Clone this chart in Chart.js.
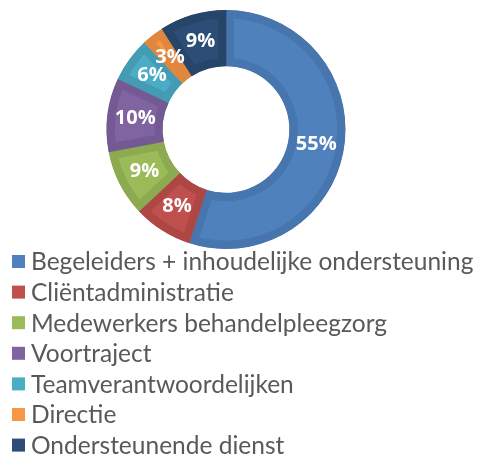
<!DOCTYPE html>
<html>
<head>
<meta charset="utf-8">
<script src="https://cdn.jsdelivr.net/npm/chart.js@4/dist/chart.umd.min.js"></script>
<style>
  html, body { margin: 0; padding: 0; background: #fff; }
  #wrap { width: 477px; height: 454px; position: relative; }
</style>
</head>
<body>
<div id="wrap"><canvas id="grafiek"></canvas></div>
<script>
// data
var categorieen = ['Begeleiders + inhoudelijke ondersteuning', 'Cliëntadministratie', 'Medewerkers behandelpleegzorg',
	'Voortraject', 'Teamverantwoordelijken', 'Directie', 'Ondersteunende dienst'];
var percentages = [55, 8, 9, 10, 6, 3, 9];
var kleuren = ['#4f81bd', '#c0504d', '#9bbb59', '#8064a2', '#4bacc6', '#f79646', '#2c4d75'];
var randKleuren = ['#4775ad', '#ae4744', '#8caa4f', '#735a93', '#439cb4', '#e0873f', '#274469'];

// labels in het midden van elk segment
var labelPlugin = {
	id: 'labels',
	afterDatasetsDraw: function(chart) {
		var ctx = chart.ctx;
		var meta = chart.getDatasetMeta(0);
		ctx.save();
		ctx.font = 'bold 20px "Open Sans"';
		ctx.fillStyle = '#ffffff';
		ctx.textAlign = 'center';
		ctx.textBaseline = 'middle';
		meta.data.forEach(function(arc, i) {
			var p = arc.tooltipPosition();
			ctx.fillText(percentages[i] + '%', p.x, p.y);
		});
		ctx.restore();
	}
};

// legenda onder elkaar
var legendaPlugin = {
	id: 'legenda',
	afterDraw: function(chart) {
		var ctx = chart.ctx;
		ctx.save();
		ctx.font = '24.5px Lato';
		ctx.textBaseline = 'middle';
		categorieen.forEach(function(naam, i) {
			var y = 261.5 + i * 30.6;
			ctx.fillStyle = kleuren[i];
			ctx.fillRect(12, y - 6.5, 13, 13);
			ctx.fillStyle = '#595959';
			ctx.fillText(naam, 31, y + 1);
		});
		ctx.restore();
	}
};

var grafiek = new Chart(document.getElementById('grafiek').getContext('2d'), {
	type: 'doughnut',
	data: {
		labels: categorieen,
		datasets: [{
			data: percentages,
			backgroundColor: kleuren,
			borderColor: randKleuren,
			borderWidth: 8,
			borderAlign: 'inner',
			hoverOffset: 0
		}]
	},
	options: {
		responsive: true,
		maintainAspectRatio: false,
		animation: false,
		cutout: '53%',
		layout: { padding: { top: 10, bottom: 205, left: 0, right: 25 } },
		plugins: {
			legend: { display: false },
			tooltip: { enabled: false }
		}
	},
	plugins: [labelPlugin, legendaPlugin]
});
</script>
</body>
</html>
